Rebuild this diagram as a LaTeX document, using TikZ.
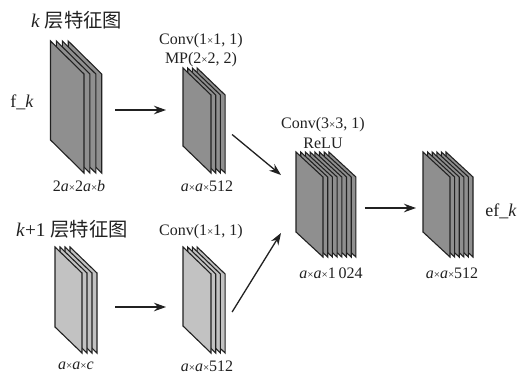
\documentclass[tikz,border=0pt]{standalone}
\usepackage{fontspec}
\setmainfont{Liberation Serif}
\newfontfamily\cjkf{Noto Sans CJK SC}
\usetikzlibrary{arrows.meta,calc}
\definecolor{darkfill}{gray}{0.56}
\definecolor{lightfill}{gray}{0.76}
\definecolor{inkc}{gray}{0.13}
\tikzset{
 stackbox/.style={inner sep=0pt,outer sep=0pt,anchor=north west},
 arr/.style={draw=inkc,line width=1.3pt,-{Stealth[length=12pt,width=8.5pt]}},
 lab/.style={text=inkc,font=\fontsize{16}{18}\selectfont,inner sep=0pt},
 biglab/.style={text=inkc,font=\fontsize{18}{20}\selectfont,inner sep=0pt},
 head/.style={text=inkc,font=\fontsize{19.3}{21}\selectfont,inner sep=0pt},
}
\newcommand{\tm}{{\fontsize{11}{11}\selectfont ×}}
% name, left x, top y, sheet width, slant drop, left height, number of back sheets, shift, fill
\newcommand{\sheetstack}[9]{%
 \pgfmathsetmacro{\totw}{#4+#7*#8}%
 \pgfmathsetmacro{\toth}{#5+#6}%
 \node[stackbox,minimum width=\totw pt,minimum height=\toth pt] (#1) at (#2,#3) {};
 \foreach \i in {#7,...,0}{
  \pgfmathsetmacro{\sx}{#2+\i*#8}
  \fill[#9,draw=inkc,line width=1.1pt] (\sx,#3) -- (\sx+#4,#3+#5) -- (\sx+#4,#3+#5+#6) -- (\sx,#3+#6) -- cycle;
 }%
}
\begin{document}
\begin{tikzpicture}[x=1pt,y=-1pt]
\useasboundingbox (0,0) rectangle (521,376);
\fill[white] (0,0) rectangle (521,376);
\sheetstack{s1}{50.5}{41}{33.5}{33}{99}{3}{5.9}{darkfill}
\sheetstack{s2}{183}{68}{28}{27}{78}{3}{4.7}{darkfill}
\sheetstack{s3}{55}{247}{27}{26}{80}{3}{5}{lightfill}
\sheetstack{s4}{183}{247}{28}{27}{79}{3}{4.7}{lightfill}
\sheetstack{s5}{296}{152}{27}{25}{80}{7}{4.7}{darkfill}
\sheetstack{s6}{423}{152}{27}{25}{80}{5}{4.6}{darkfill}
\draw[arr] ($(s1.east)+(13.5,3)$) -- ($(s2.west)+(-17,-10.5)$);
\draw[arr] ($(s2.east)+(7,14)$) -- ($(s5.west)+(-15,-29.5)$);
\draw[arr] ($(s3.east)+(18,7)$) -- ($(s4.west)+(-17,7)$);
\draw[arr] ($(s4.east)+(7,12)$) -- ($(s5.west)+(-15,28.5)$);
\draw[arr] ($(s5.east)+(9,3.5)$) -- ($(s6.west)+(-7,3.5)$);
\node[head,anchor=west] (t1) at (31,20) {\textit{k} {\cjkf 层特征图}};
\node[head,anchor=west] (t2) at (16,229) {\textit{k}+1 {\cjkf 层特征图}};
\node[lab] (l1) at (201,41) {Conv(1\tm1, 1)};
\node[lab] (l2) at (201,60) {MP(2\tm2, 2)};
\node[lab] (l3) at (201,232) {Conv(1\tm1, 1)};
\node[lab] (l4) at (323,124.5) {Conv(3\tm3, 1)};
\node[lab] (l5) at (323,143.5) {ReLU};
\node[biglab] (l6) at (22,102) {f\_\textit{k}};
\node[biglab] (l7) at (501,211) {ef\_\textit{k}};
\node[lab] (l8) at (79,186) {2\textit{a}\tm2\textit{a}\tm\textit{b}};
\node[lab] (l9) at (207,186) {\textit{a}\tm\textit{a}\tm512};
\node[lab] (l10) at (76,366) {\textit{a}\tm\textit{a}\tm\textit{c}};
\node[lab] (l11) at (207,366) {\textit{a}\tm\textit{a}\tm512};
\node[lab] (l12) at (331,273) {\textit{a}\tm\textit{a}\tm1\,024};
\node[lab] (l13) at (452,273) {\textit{a}\tm\textit{a}\tm512};
\end{tikzpicture}
\end{document}
